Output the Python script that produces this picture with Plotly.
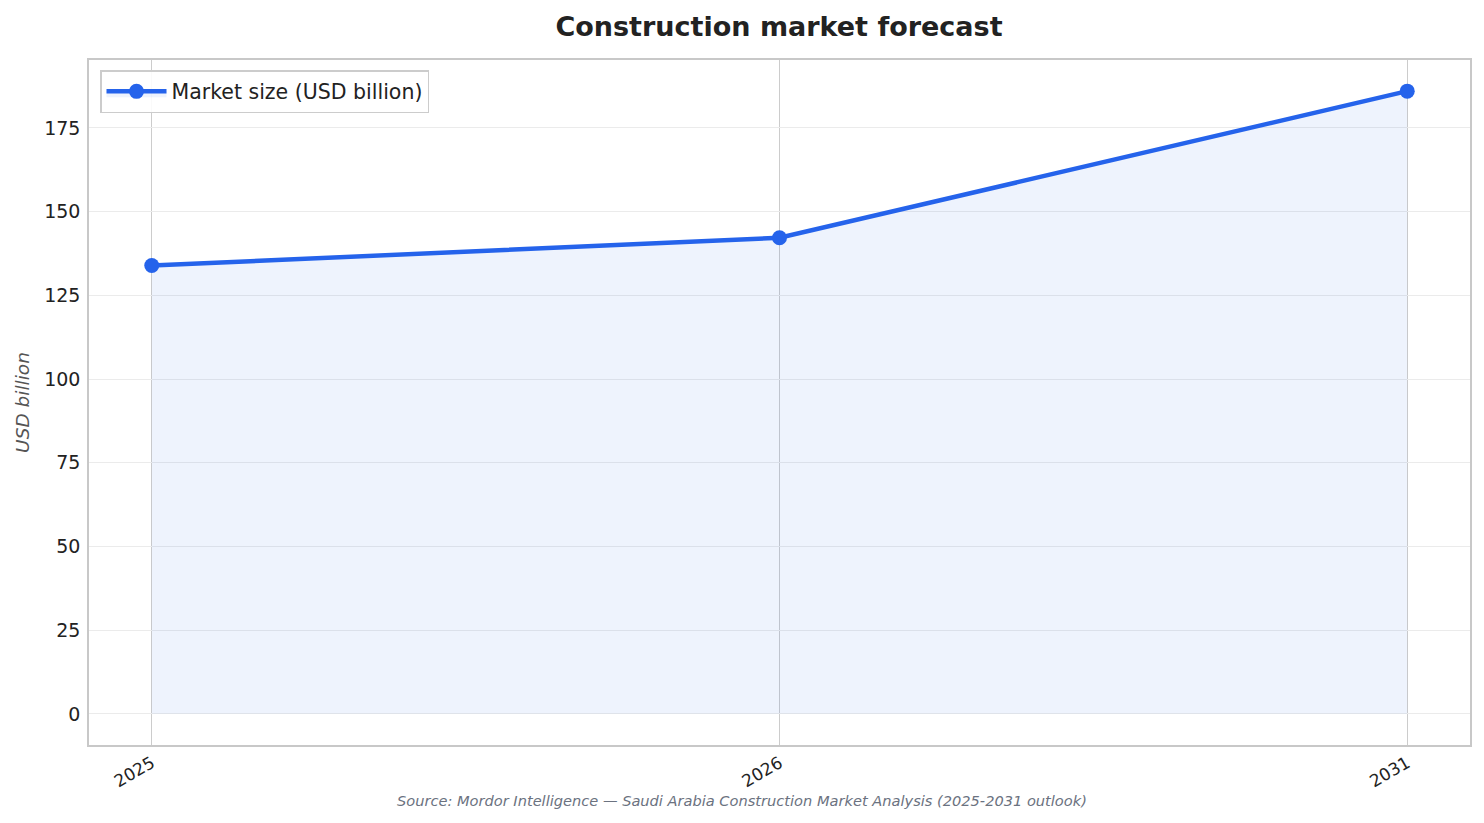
import plotly.graph_objects as go

years = ["2025", "2026", "2031"]
market_size = [133.9, 142.2, 186.0]
y_ticks = [0, 25, 50, 75, 100, 125, 150, 175]

BLUE = "#2563eb"
FONT = "DejaVu Sans"

# page body has an 8px margin, so the figure is sized/offset to compensate
W, H = 1476, 815
ML, MR, MT, MB = 81, 14, 52, 78
PW, PH = W - ML - MR, H - MT - MB

fig = go.Figure()
fig.add_trace(go.Scatter(
    x=years, y=[0] * len(years), mode="lines", line=dict(width=0),
    showlegend=False, hoverinfo="skip"))
fig.add_trace(go.Scatter(
    x=years, y=market_size, mode="lines+markers", name="Market size (USD billion)",
    line=dict(color=BLUE, width=4.5), marker=dict(size=15, color=BLUE),
    fill="tonexty", fillcolor="rgba(37,99,235,0.08)"))

fig.update_layout(
    width=W, height=H,
    margin=dict(l=ML, r=MR, t=MT, b=MB),
    paper_bgcolor="white", plot_bgcolor="white",
    font=dict(family=FONT, color="#222222", size=17),
    title=dict(text="<b>Construction market forecast</b>", x=(779 - 8) / W,
               xanchor="center", y=1 - (27 - 8) / H, yanchor="middle",
               font=dict(size=27, color="#222222", family=FONT)),
    legend=dict(x=(100 - 89) / PW, y=(745 - 70) / PH, xanchor="left", yanchor="top",
                bgcolor="rgba(255,255,255,0.9)", bordercolor="#cccccc", borderwidth=1.5,
                itemwidth=60,
                font=dict(size=20.5, color="#222222", family=FONT)),
    xaxis=dict(type="category", range=[-0.1, 2.1], showgrid=True, gridcolor="#cccccc",
               gridwidth=1, tickangle=-30, ticks="", showline=True, linecolor="#c8c8c8",
               linewidth=1.5, mirror=True, zeroline=False,
               tickfont=dict(size=17, color="#222222")),
    yaxis=dict(range=[-9.3, 195.3], tickvals=y_ticks, showgrid=True, gridcolor="#ebebeb",
               gridwidth=1.2, ticks="", showline=True, linecolor="#c8c8c8", linewidth=1.5,
               mirror=True, zeroline=False, tickfont=dict(size=19, color="#222222"),
               ticklabelstandoff=3,
               title=dict(text="<i>USD billion</i>", standoff=10,
                          font=dict(size=18.5, color="#555555"))),
)

fig.add_annotation(
    text="<i>Source: Mordor Intelligence — Saudi Arabia Construction Market Analysis (2025-2031 outlook)</i>",
    xref="paper", yref="paper", x=(741.5 - 89) / PW, y=(745 - 800) / PH, xanchor="center",
    yanchor="middle", showarrow=False, font=dict(size=14.6, color="#6b7280", family=FONT))

fig.write_html("out.html")
